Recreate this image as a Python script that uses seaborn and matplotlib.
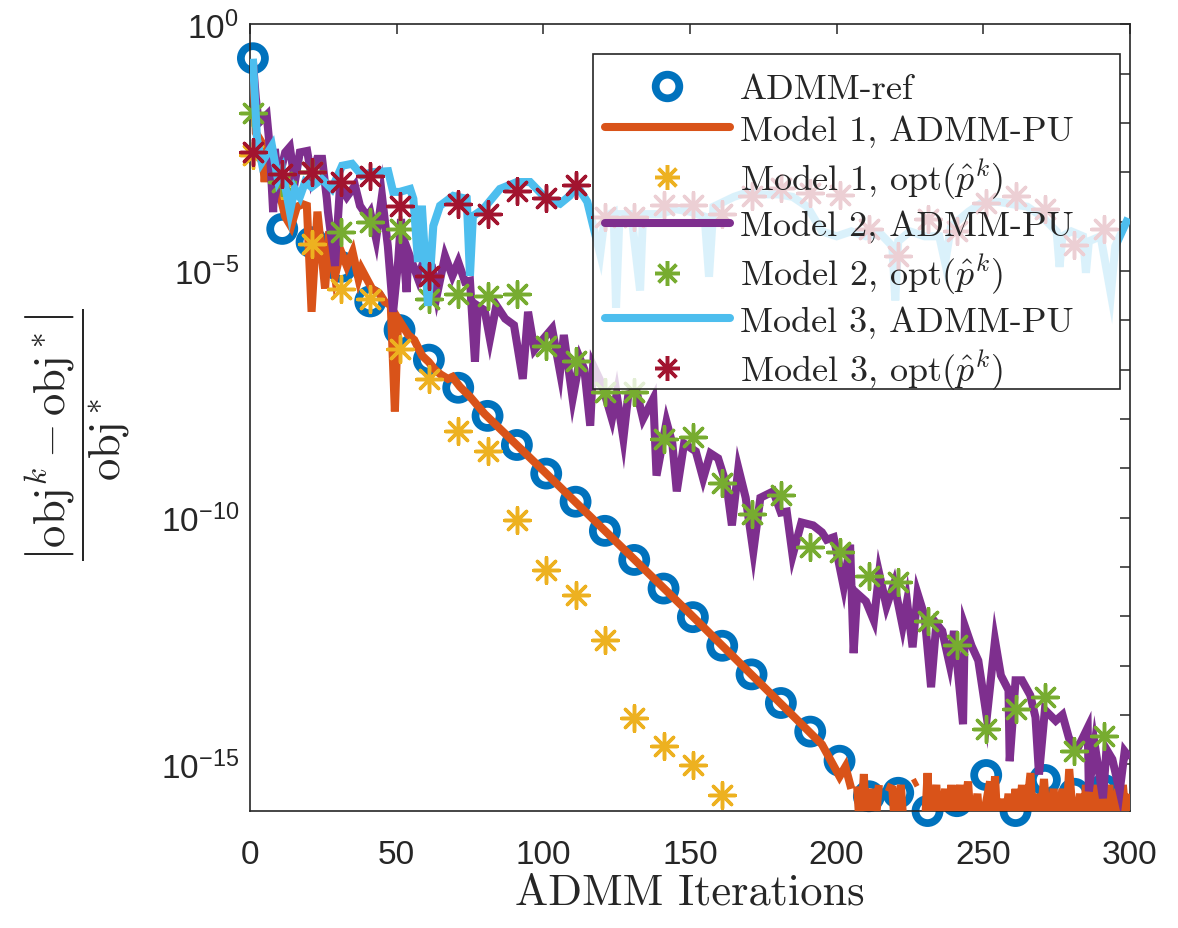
import numpy as np
import pandas as pd
import matplotlib
matplotlib.use("Agg")
import matplotlib.pyplot as plt
from matplotlib.lines import Line2D
from matplotlib.patches import Rectangle
import seaborn as sns

# ---------------- data (log10 of relative objective error) ----------------
marker_iters = [1, 11, 21, 31, 41, 51, 61, 71, 81, 91, 101, 111, 121, 131, 141,
                151, 161, 171, 181, 191, 201, 211, 221, 231, 241, 251, 261, 271, 281, 291]

admm_ref = [-0.69, -4.15, -4.42, -4.92, -5.62, -6.20, -6.80, -7.37, -7.94, -8.53,
            -9.11, -9.68, -10.27, -10.86, -11.44, -12.02, -12.60, -13.18, -13.76, -14.34,
            -14.93, -15.65, -15.58, -15.95, -15.75, -15.22, -15.95, -15.32, -15.60, -15.52]

m1_opt_iters = [1, 11, 21, 31, 41, 51, 61, 71, 81, 91, 101, 111, 121, 131, 141, 151, 161]
m1_opt = [-2.65, -3.25, -4.45, -5.36, -5.57, -6.58, -7.19, -8.24, -8.66, -10.06,
          -11.07, -11.58, -12.49, -14.07, -14.64, -15.02, -15.63]

m2_opt = [-1.80, -3.20, -3.00, -4.21, -4.01, -4.15, -5.57, -5.47, -5.50, -5.47,
          -6.52, -6.82, -7.45, -7.45, -8.40, -8.36, -9.31, -9.92, -9.55, -10.59,
          -10.70, -11.19, -11.30, -12.09, -12.59, -14.29, -13.89, -13.64, -14.74, -14.43]

m3_opt = [-2.59, -3.04, -3.00, -3.20, -3.07, -3.68, -5.10, -3.64, -3.85, -3.38,
          -3.52, -3.27, -3.91, -3.91, -3.67, -3.67, -3.84, -3.49, -3.32, -3.42,
          -3.46, -4.16, -4.69, -3.95, -4.20, -3.63, -3.49, -3.74, -4.48, -4.15]

m1_pu_iters = [1, 2, 4, 5, 6, 8, 10, 12, 14, 16, 18, 19.4, 21, 23, 25.6, 27, 29, 31, 33, 35,
               37, 38, 41.6, 44, 46, 48, 49.4, 50.5, 54, 56, 58.7, 61, 63, 65, 67.5, 69,
               71.6, 75, 80, 100, 150, 195, 201, 203, 205, 206,
               207, 208, 209.3, 210, 212, 213, 214.4, 215, 217, 219, 220, 221.9, 223, 224,
               226, 227.6, 228, 230, 231, 232, 234, 235, 237, 238, 239.1, 240, 242, 243,
               244.8, 246, 248, 249, 252.3, 253, 254, 255, 256, 257, 258.6, 260, 261, 262,
               263.2, 264, 266.1, 267, 268, 269, 270.7, 272, 274, 275, 277, 278, 279.3, 281,
               283, 284, 285, 286, 287.9, 289, 290, 291, 293, 294, 296, 297, 297.6, 299, 300]
m1_pu = [-0.75, -2.2, -2.4, -3.2, -2.5, -3.3, -3.4, -3.9, -4.1, -3.7, -3.65, -3.68, -5.83,
         -3.8, -5.36, -4.2, -5.1, -4.6, -4.9, -4.62, -5.16, -4.96, -5.36, -5.45, -5.63, -5.7,
         -7.85, -5.97, -6.3, -6.4, -6.72, -6.85, -7.0, -7.1, -7.19, -7.15, -7.35, -7.55,
         -7.9, -9.05, -11.95, -14.6, -15.25, -15.05, -15.5, np.nan,
         -15.45, -16.4, -15.2, -16.4, -15.5, -16.4, -15.42, np.nan, -15.45, -15.5, -16.4,
         -15.42, -16.4, np.nan, -15.4, -15.35, np.nan, -16.4, -15.18, -16.4, -15.42, -16.4,
         -15.5, -16.4, -15.42, -16.4, -15.42, -16.4, -15.35, -16.4, -15.6, -16.4, -15.35,
         -16.4, -15.25, -16.4, -15.7, -16.4, -15.6, -16.4, -15.5, -16.4, -15.42, -16.4,
         -15.18, -16.4, -15.6, -16.4, -15.3, -16.4, -15.5, -16.4, -15.5, -16.4, -15.1,
         -16.4, -15.6, -16.4, -15.42, -16.4, -15.42, -16.4, -15.6, -16.4, -15.42, -16.4,
         -15.5, -16.4, -15.42, -16.4, -15.6]

m2_pu_iters = [1, 2, 3, 5.7, 6.7, 7.9, 8.5, 9.6, 12, 13.6, 15.3, 17, 19.5, 21, 22.9, 24.6,
               26.2, 26.6, 29, 30.7, 33, 35.8, 37.5, 40, 41, 43, 45, 47, 48.8, 50.5, 51.5,
               53.4, 54, 57.3, 59.7, 62, 63.7, 66.5, 69, 71, 73.3, 75, 76.7, 77.7, 80, 81.8,
               84, 87, 90, 93, 94.8, 97, 100, 103, 105.7, 107, 110, 112.5, 114, 116, 117,
               120, 123.4, 125, 127.3, 129, 131.8, 134, 137.5, 138.6, 142, 144, 145.5, 148,
               152, 154.5, 157, 159.6, 162.5, 164.3, 166.5, 169, 171.6, 174, 178.4, 181,
               183, 185, 188, 192, 195, 196.6, 199, 202.4, 204.6, 205.8, 207, 210, 212.7,
               214.5, 217, 219.6, 222.5, 224, 225.9, 227.6, 230, 232.2, 234, 236, 238.5,
               240, 243.1, 243.7, 246, 248.3, 251.2, 254, 256, 258.6, 259, 261, 263.2, 266,
               267.8, 269, 271, 274.7, 277, 279.2, 282, 285.6, 286, 288, 290.8, 292, 294,
               296.5, 298.2, 300]
m2_pu = [-0.75, -1.5, -2.0, -1.84, -2.47, -3.81, -2.53, -3.2, -2.6, -2.49, -3.2, -2.6,
         -2.57, -3.1, -2.73, -2.73, -3.54, -3.81, -4.9, -3.27, -3.5, -3.27, -3.68, -3.9,
         -3.81, -4.35, -3.48, -4.5, -5.83, -4.82, -3.95, -5.43, -4.62, -5.16, -4.7, -4.9,
         -5.5, -4.7, -5.1, -4.82, -5.22, -5.2, -6.84, -5.71, -5.8, -6.38, -5.7, -5.97,
         -6.1, -7.19, -5.83, -6.6, -6.38, -6.17, -7.05, -6.3, -7.59, -6.78, -7.0, -8.14,
         -6.92, -7.3, -8.0, -7.5, -8.4, -7.5, -7.45, -8.0, -7.59, -9.15, -8.06, -8.5,
         -9.47, -8.5, -8.66, -9.21, -8.7, -8.8, -9.35, -10.16, -9.0, -9.6, -10.69, -9.6,
         -9.47, -9.9, -9.88, -10.77, -10.1, -10.16, -10.3, -10.45, -10.4, -11.4, -10.55,
         -12.75, -11.54, -11.7, -12.09, -11.13, -11.8, -11.34, -12.2, -11.7, -12.63,
         -11.54, -12.0, -13.44, -12.15, -12.3, -12.97, -12.3, -14.19, -12.2, -12.6, -12.9,
         -14.05, -12.49, -13.2, -13.5, -14.94, -13.3, -13.3, -13.6, -14.05, -15.21, -13.9,
         -14.12, -14.0, -14.47, -14.7, -14.26, -15.55, -14.6, -15.69, -14.7, -14.9,
         -15.55, -14.74, -14.88]

m3_pu_iters = [1, 2.4, 4, 7.5, 9.5, 11, 13.6, 15.3, 17, 18.8, 21, 24.5, 27.9, 31.4, 34.8,
               38.2, 41.6, 47.1, 48.8, 51, 54.6, 55.7, 57.3, 58.6, 60.7, 62.5, 64.8, 69.3,
               73.9, 75, 76, 79.5, 85.2, 91, 95.5, 101, 105.7, 109, 111.4, 115, 117, 119.4,
               121, 124, 124.8, 126, 130, 133, 134, 140, 145, 150, 155, 156.5, 158, 165,
               170, 175, 180, 185, 190, 195, 200, 205, 210, 215, 219, 220, 221, 225, 230,
               235, 237, 239, 245, 250, 255, 260, 265, 270, 275, 276, 277, 280, 284, 285,
               286, 290, 293.5, 295, 299.4]
m3_pu = [-0.7, -2.33, -2.8, -2.47, -3.14, -2.95, -3.8, -3.34, -3.5, -3.2, -3.3, -3.14,
         -3.34, -2.87, -2.83, -3.07, -3.0, -2.98, -3.4, -3.4, -3.34, -3.54, -4.82, -3.68,
         -5.71, -4.09, -3.68, -3.48, -3.54, -5.1, -3.89, -3.75, -3.34, -3.2, -3.2, -3.54,
         -3.64, -3.48, -3.27, -3.6, -4.09, -4.66, -3.9, -3.81, -5.75, -3.85, -3.85, -5.4,
         -3.85, -3.85, -3.75, -3.8, -3.9, -5.12, -3.7, -3.5, -3.4, -3.45, -3.45, -3.5,
         -3.7, -4.2, -4.3, -4.2, -4.3, -4.25, -4.5, -5.6, -4.4, -4.2, -4.3, -4.3, -4.84,
         -4.1, -3.8, -3.6, -3.6, -3.65, -3.7, -3.9, -4.2, -4.92, -4.3, -4.2, -4.3, -5.04,
         -4.4, -4.3, -5.47, -4.5, -3.93]

labels = ["ADMM-ref", "Model 1, ADMM-PU", r"Model 1, opt$(\hat{p}^k)$",
          "Model 2, ADMM-PU", r"Model 2, opt$(\hat{p}^k)$",
          "Model 3, ADMM-PU", r"Model 3, opt$(\hat{p}^k)$"]
colors = ["#0072BD", "#D95319", "#EDB120", "#7E2F8E", "#77AC30", "#4DBEEE", "#A2142F"]

# ---------------- style ----------------
sns.set_theme(style="white")
plt.rcParams["font.family"] = ["Liberation Sans", "DejaVu Sans"]
plt.rcParams["mathtext.fontset"] = "cm"
plt.rcParams["axes.unicode_minus"] = False

fig = plt.figure(figsize=(11.78, 9.29), dpi=100)
ax = fig.add_axes([0.2122, 0.1259, 0.747, 0.847])

LW = 5.8
STAR = (8, 2, 0)
STAR_S = 340
STAR_LW = 2.5


def line_frame(xs, ys):
    """Split a polyline into runs separated by missing values."""
    y = np.asarray(ys, dtype=float)
    seg = np.cumsum(np.isnan(y))
    df = pd.DataFrame({"it": xs, "val": 10.0 ** y, "seg": seg})
    return df.dropna()


def draw_line(xs, ys, color, z):
    df = line_frame(xs, ys)
    sns.lineplot(data=df, x="it", y="val", units="seg", estimator=None, sort=False,
                 color=color, lw=LW, ax=ax, zorder=z, legend=False,
                 solid_joinstyle="miter", solid_capstyle="butt")


def draw_stars(xs, ys, color, z):
    df = pd.DataFrame({"it": xs, "val": 10.0 ** np.asarray(ys)})
    sns.scatterplot(data=df, x="it", y="val", marker=STAR, s=STAR_S, color=color,
                    edgecolor=color, linewidth=STAR_LW, ax=ax, zorder=z, legend=False)


# ADMM reference: open circles
ref_df = pd.DataFrame({"it": marker_iters, "val": 10.0 ** np.asarray(admm_ref)})
sns.scatterplot(data=ref_df, x="it", y="val", marker="o", s=300, facecolors="none",
                edgecolor=colors[0], linewidth=5.6, ax=ax, zorder=2, legend=False)

draw_line(m1_pu_iters, m1_pu, colors[1], 3)
draw_stars(m1_opt_iters, m1_opt, colors[2], 4)
draw_line(m2_pu_iters, m2_pu, colors[3], 5)
draw_stars(marker_iters, m2_opt, colors[4], 6)
draw_line(m3_pu_iters, m3_pu, colors[5], 7)
draw_stars(marker_iters, m3_opt, colors[6], 8)

for coll in ax.collections:
    coll.set_clip_on(False)

# ---------------- axes ----------------
ax.set_yscale("log")
ax.set_xlim(0, 300)
ax.set_ylim(10 ** -15.95, 1.0)
ax.set_xticks([0, 50, 100, 150, 200, 250, 300])
ax.set_xticklabels(["0", "50", "100", "150", "200", "250", "300"])
ax.set_yticks([10.0 ** k for k in range(-15, 1)])
ax.set_yticklabels([r"$\mathregular{10^{%d}}$" % k if k % 5 == 0 else "" for k in range(-15, 1)])
ax.minorticks_off()
ax.tick_params(axis="both", which="major", direction="in", length=7, width=1.1,
               top=True, right=True, labelsize=24, colors="#262626", pad=8)
ax.tick_params(axis="x", pad=20)
for sp in ax.spines.values():
    sp.set_visible(True)
    sp.set_color("#262626")
    sp.set_linewidth(1.2)

ax.set_xlabel("ADMM Iterations", fontsize=32, family="cmr10", labelpad=2)
ax.set_ylabel(r"$\dfrac{\left|\mathrm{obj}^k-\mathrm{obj}^*\right|}{\mathrm{obj}^*}$",
              fontsize=32)
ax.yaxis.set_label_coords(-0.134, 0.48)

# ---------------- legend ----------------
# translucent white box behind the entries
box = Rectangle((0.3898, 0.5362), 0.5989, 0.4257, transform=ax.transAxes,
                facecolor="white", alpha=0.8, edgecolor="none", zorder=19, clip_on=False)
ax.add_patch(box)
edge = Rectangle((0.3898, 0.5362), 0.5989, 0.4257, transform=ax.transAxes,
                 facecolor="none", edgecolor="#262626", lw=1.2, zorder=19.5, clip_on=False)
ax.add_patch(edge)

handles = [
    Line2D([], [], ls="none", marker="o", ms=17, mfc="none", mec=colors[0], mew=5.6),
    Line2D([], [], color=colors[1], lw=LW),
    Line2D([], [], ls="none", marker=STAR, ms=18, mec=colors[2], mew=STAR_LW),
    Line2D([], [], color=colors[3], lw=LW),
    Line2D([], [], ls="none", marker=STAR, ms=18, mec=colors[4], mew=STAR_LW),
    Line2D([], [], color=colors[5], lw=LW),
    Line2D([], [], ls="none", marker=STAR, ms=18, mec=colors[6], mew=STAR_LW),
]
leg = ax.legend(handles, labels, loc="upper left", bbox_to_anchor=(0.4034, 0.938),
                borderaxespad=0, prop={"family": "cmr10", "size": 26}, frameon=False,
                handlelength=3.46, handletextpad=0.28, labelspacing=0.25, borderpad=0)
leg.set_zorder(20)

fig.savefig("out.png", dpi=100)
